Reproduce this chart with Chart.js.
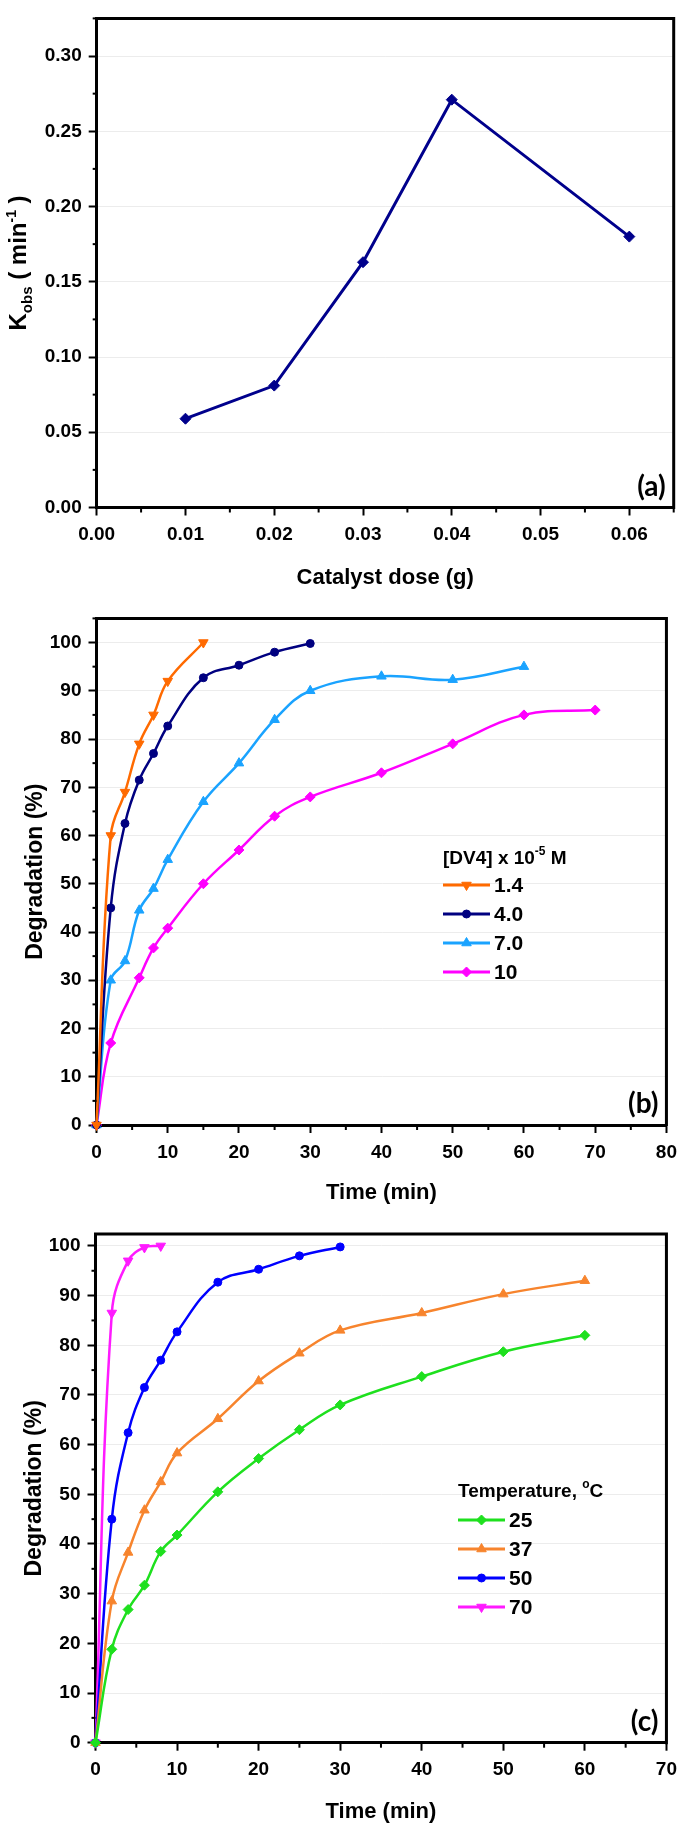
<!DOCTYPE html>
<html><head><meta charset="utf-8">
<script src="https://cdn.jsdelivr.net/npm/chart.js@4/dist/chart.umd.min.js"></script>
<style>
html,body{margin:0;padding:0;background:#fff;}
body{width:685px;height:1826px;position:relative;overflow:hidden;}
.box{position:absolute;left:0;width:685px;}
canvas{display:block;}
</style></head><body>
<div class="box" style="top:0;height:600px"><canvas id="ca" width="685" height="600"></canvas></div>
<div class="box" style="top:600px;height:610px"><canvas id="cb" width="685" height="610"></canvas></div>
<div class="box" style="top:1210px;height:616px"><canvas id="cc" width="685" height="616"></canvas></div>
<script>
// ---------- DATA ----------
// (a) rate constant vs catalyst dose
const doseX = [0.01, 0.02, 0.03, 0.04, 0.06];
const kobs  = [0.059, 0.081, 0.163, 0.271, 0.180];
const doseTicks = [0, 0.01, 0.02, 0.03, 0.04, 0.05, 0.06];
const kTicks    = [0, 0.05, 0.10, 0.15, 0.20, 0.25, 0.30];

// (b) degradation vs time for dye concentrations
const legendB = ['1.4', '4.0', '7.0', '10'];
const timeB14 = [0, 2, 4, 6, 8, 10, 15];
const degB14  = [0, 60, 69, 79, 85, 92, 100];
const timeB40 = [0, 2, 4, 6, 8, 10, 15, 20, 25, 30];
const degB40  = [0, 45, 62.5, 71.5, 77, 82.7, 92.7, 95.3, 98, 99.8];
const timeB70 = [0, 2, 4, 6, 8, 10, 15, 20, 25, 30, 40, 50, 60];
const degB70  = [0, 30, 34, 44.5, 49, 55, 67, 75, 84, 90, 93, 92.3, 95];
const timeB10 = [0, 2, 6, 8, 10, 15, 20, 25, 30, 40, 50, 60, 70];
const degB10  = [0, 17, 30.5, 36.7, 40.8, 50, 57, 64, 68, 73, 79, 85, 86];
const timeTicksB = [0, 10, 20, 30, 40, 50, 60, 70, 80];
const degTicks   = [0, 10, 20, 30, 40, 50, 60, 70, 80, 90, 100];

// (c) degradation vs time for temperatures
const legendC = ['25', '37', '50', '70'];
const timeC25 = [0, 2, 4, 6, 8, 10, 15, 20, 25, 30, 40, 50, 60];
const degC25  = [0, 18.8, 26.8, 31.7, 38.5, 41.8, 50.5, 57.2, 63, 68, 73.7, 78.7, 82];
const timeC37 = [0, 2, 4, 6, 8, 10, 15, 20, 25, 30, 40, 50, 60];
const degC37  = [0, 28.5, 38.3, 46.8, 52.5, 58.3, 65.2, 72.8, 78.4, 83, 86.5, 90.3, 93];
const timeC50 = [0, 2, 4, 6, 8, 10, 15, 20, 25, 30];
const degC50  = [0, 45, 62.4, 71.5, 77, 82.7, 92.7, 95.3, 98, 99.8];
const timeC70 = [0, 2, 4, 6, 8];
const degC70  = [0, 86.5, 97, 99.7, 100];
const timeTicksC = [0, 10, 20, 30, 40, 50, 60, 70];

// ---------- HELPERS ----------
const FONT = '"Liberation Sans", Arial, sans-serif';
Chart.defaults.font.family = FONT;
Chart.defaults.color = '#000';

function pts(xs, ys) { return xs.map((x, i) => ({x: x, y: ys[i]})); }

function drawRich(ctx, parts, cx, cy, rotate, align) {
  ctx.save();
  ctx.translate(cx, cy);
  if (rotate) ctx.rotate(-Math.PI / 2);
  let total = 0;
  const widths = parts.map(p => {
    ctx.font = (p.weight || 'bold') + ' ' + p.size + 'px ' + (p.family || FONT);
    const w = ctx.measureText(p.t).width; total += w; return w;
  });
  let x = align === 'left' ? 0 : -total / 2;
  const base = parts[0].size * 0.36;
  ctx.fillStyle = '#000';
  ctx.textBaseline = 'alphabetic';
  ctx.textAlign = 'left';
  parts.forEach((p, i) => {
    ctx.font = (p.weight || 'bold') + ' ' + p.size + 'px ' + (p.family || FONT);
    ctx.fillText(p.t, x, base + (p.dy || 0));
    x += widths[i];
  });
  ctx.restore();
}

const framePlugin = {
  id: 'frame',
  afterDraw(chart, args, o) {
    const {ctx, chartArea: a, scales} = chart;
    ctx.save();
    // top and right frame
    ctx.strokeStyle = '#000';
    ctx.lineWidth = 3;
    ctx.lineCap = 'square';
    ctx.beginPath();
    ctx.moveTo(a.left, a.top);
    ctx.lineTo(a.right, a.top);
    ctx.lineTo(a.right, a.bottom);
    ctx.stroke();
    // minor ticks
    ctx.lineWidth = 2;
    ctx.lineCap = 'butt';
    const xs = scales.x, ys = scales.y;
    for (let v = o.xMinor; v <= xs.max + 1e-9; v += o.xMinor * 2) {
      const px = xs.getPixelForValue(v);
      ctx.beginPath(); ctx.moveTo(px, a.bottom); ctx.lineTo(px, a.bottom + 5); ctx.stroke();
    }
    for (let v = o.yMinor; v <= ys.max + 1e-9; v += o.yMinor * 2) {
      const py = ys.getPixelForValue(v);
      ctx.beginPath(); ctx.moveTo(a.left, py); ctx.lineTo(a.left - 4, py); ctx.stroke();
    }
    // panel label
    ctx.fillStyle = '#000';
    ctx.font = 'bold 28px Lato, "Open Sans", sans-serif';
    ctx.textAlign = 'right';
    ctx.textBaseline = 'middle';
    ctx.fillText(o.panel, a.right - 8, a.bottom - 21);
    // y title
    drawRich(ctx, o.yTitle, o.yTitleX, (a.top + a.bottom) / 2, true);
    // legend
    if (o.legend) {
      const L = o.legend;
      drawRich(ctx, L.title, L.x, L.titleY, false, 'left');
      chart.data.datasets.forEach((ds, i) => {
        const y = L.rowY + i * L.rowGap;
        ctx.strokeStyle = ds.borderColor;
        ctx.lineWidth = 3;
        ctx.beginPath(); ctx.moveTo(L.x, y); ctx.lineTo(L.x + L.lineLen, y); ctx.stroke();
        ctx.fillStyle = ds.pointBackgroundColor;
        ctx.strokeStyle = ds.pointBorderColor;
        ctx.lineWidth = 1;
        Chart.helpers.drawPoint(ctx, {pointStyle: ds.pointStyle, rotation: ds.pointRotation || 0,
          radius: ds.pointRadius, borderWidth: 1}, L.x + L.lineLen / 2, y);
        ctx.fillStyle = '#000';
        ctx.font = 'bold 21px ' + FONT;
        ctx.textAlign = 'left';
        ctx.textBaseline = 'middle';
        ctx.fillText(ds.label, L.x + L.lineLen + 4, y + 1);
      });
    }
    ctx.restore();
  }
};

function series(label, xs, ys, color, style, radius, rot) {
  return {
    label: label, data: pts(xs, ys),
    borderColor: color, backgroundColor: color,
    pointBackgroundColor: color, pointBorderColor: color,
    pointStyle: style, pointRadius: radius, pointRotation: rot || 0,
    pointBorderWidth: 1, borderWidth: 2.5,
    tension: 0.4, clip: false
  };
}

function axisX(ticks, min, max, title, h, titlePad, fmt) {
  return {
    type: 'linear', min: min, max: max,
    afterBuildTicks: s => { s.ticks = ticks.map(v => ({value: v})); },
    afterFit: s => { s.height = h; },
    ticks: {font: {size: 19, weight: 'bold'}, color: '#000', padding: 8, maxRotation: 0, autoSkip: false,
            callback: fmt},
    grid: {drawOnChartArea: false, tickLength: 8, tickColor: '#000', tickWidth: 2},
    border: {display: true, color: '#000', width: 3},
    title: {display: true, text: title, font: {size: 22, weight: 'bold'}, color: '#000',
            padding: {top: 0, bottom: titlePad}}
  };
}
function axisY(ticks, min, max, w, fmt) {
  return {
    type: 'linear', min: min, max: max,
    afterBuildTicks: s => { s.ticks = ticks.map(v => ({value: v})); },
    afterFit: s => { s.width = w; },
    ticks: {font: {size: 19, weight: 'bold'}, color: '#000', padding: 7, autoSkip: false, callback: fmt},
    grid: {color: '#ececec', lineWidth: 1, tickLength: 8, tickColor: '#000', tickWidth: 2},
    border: {display: true, color: '#000', width: 3}
  };
}

const degTitle = [{t: 'Degradation (%)', size: 23}];

// ---------- (a) ----------
new Chart(document.getElementById('ca'), {
  type: 'line',
  data: {datasets: [{
    label: 'Kobs', data: pts(doseX, kobs),
    borderColor: '#00008c', backgroundColor: '#00008c',
    pointBackgroundColor: '#00008c', pointBorderColor: '#00008c',
    pointStyle: 'rectRot', pointRadius: 5.5, pointBorderWidth: 1, borderWidth: 3, tension: 0, clip: false
  }]},
  options: {
    responsive: false, animation: false,
    layout: {padding: {left: 0, top: 2, right: 11.3, bottom: 0}},
    plugins: {legend: {display: false}, tooltip: {enabled: false},
      frame: {xMinor: 0.005, yMinor: 0.025, panel: '(a)', yTitleX: 17.5,
        yTitle: [{t: 'K', size: 24}, {t: 'obs', size: 15, dy: 6}, {t: ' ( min', size: 24},
                 {t: '-1', size: 14, dy: -10}, {t: ' )', size: 24}]}},
    scales: {
      x: axisX(doseTicks, 0, 0.065, 'Catalyst dose (g)', 92.5, 8.8, v => v.toFixed(2)),
      y: axisY(kTicks, 0, 0.325, 96.7, v => v.toFixed(2))
    }
  },
  plugins: [framePlugin]
});

// ---------- (b) ----------
new Chart(document.getElementById('cb'), {
  type: 'line',
  data: {datasets: [
    series(legendB[0], timeB14, degB14, '#ff6a00', 'triangle', 5.5, 180),
    series(legendB[1], timeB40, degB40, '#000080', 'circle', 4),
    series(legendB[2], timeB70, degB70, '#1aa3ff', 'triangle', 5.5),
    series(legendB[3], timeB10, degB10, '#ff00ff', 'rectRot', 5)
  ]},
  options: {
    responsive: false, animation: false,
    layout: {padding: {left: 0, top: 18.3, right: 11, bottom: 0}},
    plugins: {legend: {display: false}, tooltip: {enabled: false},
      frame: {xMinor: 5, yMinor: 5, panel: '(b)', yTitleX: 34, yTitle: degTitle,
        legend: {x: 443, titleY: 257, rowY: 285, rowGap: 29, lineLen: 47,
          title: [{t: '[DV4] x 10', size: 19}, {t: '-5', size: 12, dy: -9}, {t: ' M', size: 19}]}}},
    scales: {
      x: axisX(timeTicksB, 0, 80, 'Time (min)', 85, 3.8, v => String(v)),
      y: axisY(degTicks, 0, 105, 96.5, v => String(v))
    }
  },
  plugins: [framePlugin]
});

// ---------- (c) ----------
new Chart(document.getElementById('cc'), {
  type: 'line',
  data: {datasets: [
    series(legendC[0], timeC25, degC25, '#1ee01e', 'rectRot', 5),
    series(legendC[1], timeC37, degC37, '#f7842d', 'triangle', 5.5),
    series(legendC[2], timeC50, degC50, '#0000ff', 'circle', 4),
    series(legendC[3], timeC70, degC70, '#ff1aff', 'triangle', 5.5, 180)
  ]},
  options: {
    responsive: false, animation: false,
    layout: {padding: {left: 0, top: 24, right: 10.7, bottom: 0}},
    plugins: {legend: {display: false}, tooltip: {enabled: false},
      frame: {xMinor: 5, yMinor: 5, panel: '(c)', yTitleX: 33, yTitle: degTitle,
        legend: {x: 458, titleY: 280, rowY: 310, rowGap: 29, lineLen: 47,
          title: [{t: 'Temperature, ', size: 19}, {t: 'o', size: 12, dy: -9}, {t: 'C', size: 19}]}}},
    scales: {
      x: axisX(timeTicksC, 0, 70, 'Time (min)', 83.3, 1.1, v => String(v)),
      y: axisY(degTicks, 0, 102.4, 95.5, v => String(v))
    }
  },
  plugins: [framePlugin]
});
</script>
</body></html>
